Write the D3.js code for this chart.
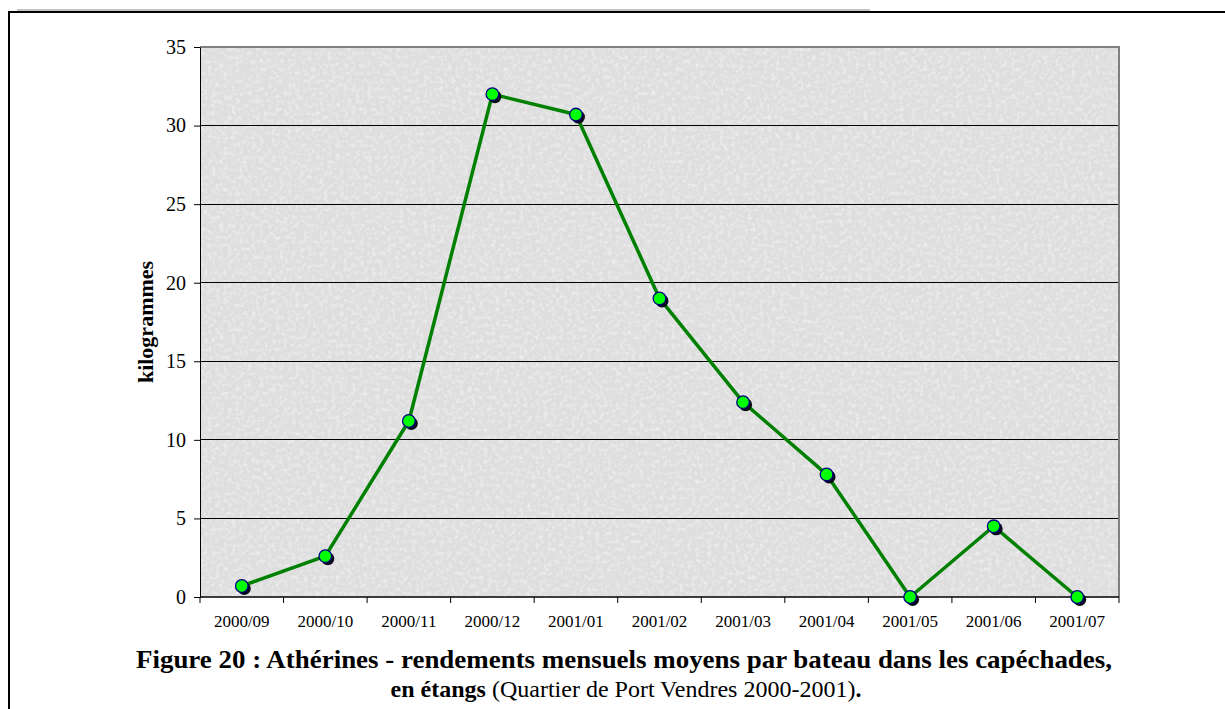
<!doctype html>
<html>
<head>
<meta charset="utf-8">
<script src="https://cdnjs.cloudflare.com/ajax/libs/d3/7.8.5/d3.min.js"></script>
<style>
  body{margin:0;background:#fff;}
  svg{display:block;font-family:"Liberation Serif","Times New Roman",serif;}
</style>
</head>
<body>
<svg id="chart" width="1225" height="709"></svg>
<script>
// data
var months = ["2000/09","2000/10","2000/11","2000/12","2001/01","2001/02","2001/03","2001/04","2001/05","2001/06","2001/07"];
var kilos  = [0.7, 2.6, 11.2, 32.0, 30.7, 19.0, 12.4, 7.8, 0, 4.5, 0];
var yTicks = [0, 5, 10, 15, 20, 25, 30, 35];

var svg = d3.select("#chart");
var m = {left:200, right:1119, top:47, bottom:597};

// textured grey background
var defs = svg.append("defs");
var f = defs.append("filter").attr("id","tex").attr("x",0).attr("y",0).attr("width","100%").attr("height","100%");
f.append("feTurbulence").attr("type","fractalNoise").attr("baseFrequency","0.25").attr("numOctaves",3).attr("seed",7).attr("result","n");
f.append("feColorMatrix").attr("in","n").attr("type","matrix")
  .attr("values","0 0 0 0 1  0 0 0 0 1  0 0 0 0 1  0 0 0 1.1 -0.5");
f.append("feComposite").attr("in2","SourceGraphic").attr("operator","over");

// frame lines around the page
svg.append("line").attr("x1",17).attr("x2",870).attr("y1",10).attr("y2",10).style("stroke","#888").style("stroke-width",1);
svg.append("path").attr("d","M9,709V12H1225").style("fill","none").style("stroke","#000").style("stroke-width",2);

var x = d3.scaleBand().domain(months).range([m.left, m.right]);
var y = d3.scaleLinear().domain([0,35]).range([m.bottom, m.top]);

svg.append("rect").attr("x",m.left).attr("y",m.top)
  .attr("width",m.right-m.left).attr("height",m.bottom-m.top)
  .style("fill","#dedede").attr("filter","url(#tex)");

// gridlines
svg.append("g").selectAll("line").data(yTicks.filter(d => d>0 && d<35)).enter()
  .append("line")
  .attr("x1",m.left).attr("x2",m.right)
  .attr("y1",d => y(d)).attr("y2",d => y(d))
  .style("stroke","#000").style("stroke-width",1).attr("shape-rendering","crispEdges");

// grey top/right border
svg.append("path").attr("d","M"+m.left+","+y(35)+"H"+m.right+"V"+m.bottom)
  .style("fill","none").style("stroke","#808080").style("stroke-width",2);

// y axis
var yAxis = svg.append("g").attr("transform","translate("+m.left+",0)")
  .call(d3.axisLeft(y).tickValues(yTicks).tickSize(6).tickPadding(8).tickSizeOuter(0));
yAxis.selectAll("text").style("font-size","20px").style("fill","#000").style("font-family","Liberation Serif");
yAxis.selectAll("line,path").style("stroke","#000");

// x axis, ticks at band edges
var xAxis = svg.append("g").attr("transform","translate(0,"+m.bottom+")");
xAxis.append("line").attr("x1",m.left).attr("x2",m.right).style("stroke","#000").style("stroke-width",1.5);
var edges = months.map(d => x(d)).concat([m.right]);
xAxis.selectAll("line.t").data(edges).enter().append("line").attr("class","t")
  .attr("x1",d => d).attr("x2",d => d).attr("y1",0).attr("y2",6).style("stroke","#000");
xAxis.selectAll("text").data(months).enter().append("text")
  .attr("x",d => x(d)+x.bandwidth()/2).attr("y",30)
  .attr("text-anchor","middle").style("font-size","17px").text(d => d);

// y label
svg.append("text").attr("transform","translate(153,322) rotate(-90)")
  .attr("text-anchor","middle").style("font-size","22px").style("font-weight","bold").text("kilogrammes");

// series
var pts = months.map((d,i) => [x(d)+x.bandwidth()/2, y(kilos[i])]);
svg.append("path").datum(pts).attr("d",d3.line())
  .style("fill","none").style("stroke","#008000").style("stroke-width",3.5).style("stroke-linejoin","round");
svg.append("g").selectAll("circle").data(pts).enter().append("circle")
  .attr("cx",d => d[0]+2.5).attr("cy",d => d[1]+2.5).attr("r",6.5).style("fill","#0a0a1a");
svg.append("g").selectAll("circle").data(pts).enter().append("circle")
  .attr("cx",d => d[0]).attr("cy",d => d[1]).attr("r",6.3)
  .style("fill","#00ff00").style("stroke","#000080").style("stroke-width",1.3);

// caption
svg.append("text").attr("x",624).attr("y",668).attr("text-anchor","middle")
  .attr("textLength",976).attr("lengthAdjust","spacingAndGlyphs")
  .style("font-size","25px").style("font-weight","bold")
  .text("Figure 20 : Athérines - rendements mensuels moyens par bateau dans les capéchades,");
var c2 = svg.append("text").attr("x",626).attr("y",697).attr("text-anchor","middle").style("font-size","24px");
c2.append("tspan").style("font-weight","bold").text("en étangs");
c2.append("tspan").text(" (Quartier de Port Vendres 2000-2001)");
c2.append("tspan").style("font-weight","bold").text(".");
</script>
</body>
</html>
